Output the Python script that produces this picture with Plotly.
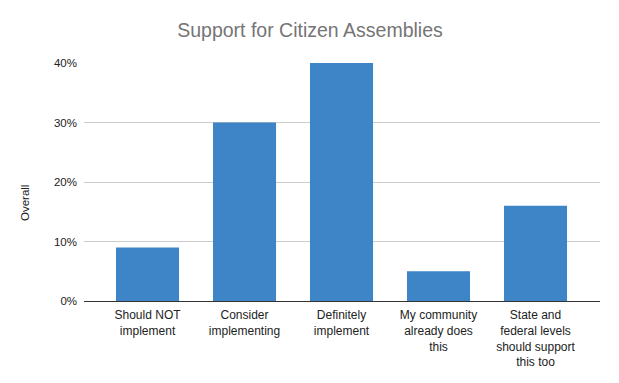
import plotly.graph_objects as go

categories = ["Should NOT<br>implement", "Consider<br>implementing", "Definitely<br>implement",
              "My community<br>already does<br>this", "State and<br>federal levels<br>should support<br>this too"]
values = [0.09, 0.30, 0.40, 0.05, 0.16]
y_ticks = [0, 0.1, 0.2, 0.3, 0.4]
y_tick_labels = ["0%", "10%", "20%", "30%", "40%"]

fig = go.Figure(go.Bar(x=list(range(len(categories))), y=values, marker_color="#3d85c6",
                       marker_line_width=0, width=0.65))

fig.update_layout(
    width=619, height=383,
    margin=dict(l=76, r=27, t=55, b=90, autoexpand=False),
    paper_bgcolor="white", plot_bgcolor="white",
    font=dict(family="Liberation Sans, Arial", size=12, color="#222222"),
    title=dict(text="Support for Citizen Assemblies", x=302 / 619, xanchor="center", xref="container",
               y=1 - 22 / 383, yanchor="middle",
               font=dict(size=19.5, color="#757575", family="Liberation Sans, Arial")),
    showlegend=False,
    annotations=[dict(text="Overall", textangle=-90, xref="paper", yref="paper",
                      x=(17 - 76) / 516, y=(293 - 195) / 238, xanchor="center", yanchor="middle",
                      showarrow=False, font=dict(size=11.5, color="#222222"))],
)
fig.update_xaxes(tickmode="array", tickvals=list(range(len(categories))), ticktext=categories,
                 range=[-0.655, 4.665], showgrid=False, showline=True, linecolor="#333333", linewidth=1,
                 ticks="", ticklabelstandoff=3, tickfont=dict(size=12, color="#222222"))
fig.update_yaxes(range=[0, 0.4], tickvals=y_ticks, ticktext=y_tick_labels, showgrid=True,
                 gridcolor="#cccccc", gridwidth=1, zeroline=False, showline=False, ticks="",
                 ticklabelstandoff=6, tickfont=dict(size=11.5, color="#222222"))
fig.write_html("out.html")
